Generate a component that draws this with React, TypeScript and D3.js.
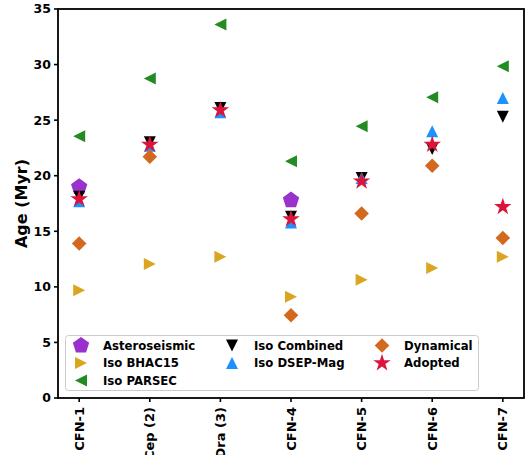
import React from "react";
import * as d3 from "d3";

const categories = ["CFN-1", "CFN-2 Cep (2)", "CFN-3 Dra (3)", "CFN-4", "CFN-5", "CFN-6", "CFN-7"];
const yTicks = [0, 5, 10, 15, 20, 25, 30, 35];

// values per category index (null = missing)
const asteroseismic = [19.0, null, null, 17.8, null, null, null];
const isoBHAC15 = [9.7, 12.05, 12.7, 9.1, 10.65, 11.7, 12.7];
const isoPARSEC = [23.55, 28.75, 33.6, 21.3, 24.45, 27.05, 29.85];
const isoCombined = [18.1, 23.0, 26.1, 16.3, 19.8, 22.4, 25.3];
const isoDSEP = [17.7, 22.7, 25.7, 15.8, 19.8, 24.0, 27.0];
const dynamical = [13.9, 21.7, null, 7.45, 16.6, 20.9, 14.4];
const adopted = [17.9, 22.8, 25.9, 16.1, 19.5, 22.8, 17.2];

type Shape = "pentagon" | "tri_right" | "tri_left" | "tri_down" | "tri_up" | "diamond" | "star";

const series: { name: string; values: (number | null)[]; color: string; shape: Shape }[] = [
  { name: "Asteroseismic", values: asteroseismic, color: "#9932CC", shape: "pentagon" },
  { name: "Iso BHAC15", values: isoBHAC15, color: "#DAA520", shape: "tri_right" },
  { name: "Iso PARSEC", values: isoPARSEC, color: "#228B22", shape: "tri_left" },
  { name: "Iso Combined", values: isoCombined, color: "#000000", shape: "tri_down" },
  { name: "Iso DSEP-Mag", values: isoDSEP, color: "#1E90FF", shape: "tri_up" },
  { name: "Dynamical", values: dynamical, color: "#D2691E", shape: "diamond" },
  { name: "Adopted", values: adopted, color: "#DC143C", shape: "star" },
];

function polygon(pts: [number, number][]) {
  return "M" + pts.map((p) => p[0].toFixed(2) + "," + p[1].toFixed(2)).join("L") + "Z";
}

function markerPath(shape: Shape): string {
  const h = 6;
  switch (shape) {
    case "pentagon": {
      const r = 8.6;
      const pts: [number, number][] = [];
      for (let i = 0; i < 5; i++) {
        const a = -Math.PI / 2 + (i * 2 * Math.PI) / 5;
        pts.push([r * Math.cos(a), r * Math.sin(a)]);
      }
      return polygon(pts);
    }
    case "tri_right":
      return polygon([[h, 0], [-h, -h], [-h, h]]);
    case "tri_left":
      return polygon([[-h, 0], [h, -h], [h, h]]);
    case "tri_down":
      return polygon([[0, h], [-h, -h], [h, -h]]);
    case "tri_up":
      return polygon([[0, -h], [-h, h], [h, h]]);
    case "diamond": {
      const d = 7.3;
      return polygon([[0, -d], [d, 0], [0, d], [-d, 0]]);
    }
    case "star": {
      const R = 9.2;
      const r = R * 0.382;
      const pts: [number, number][] = [];
      for (let i = 0; i < 10; i++) {
        const a = -Math.PI / 2 + (i * Math.PI) / 5;
        const rr = i % 2 === 0 ? R : r;
        pts.push([rr * Math.cos(a), rr * Math.sin(a)]);
      }
      return polygon(pts);
    }
  }
}

const W = 525;
const H = 455;
const L = 58;
const R = 524;
const T = 9;
const B = 398;

export default function App() {
  const x = d3.scaleLinear().domain([-0.3, categories.length - 1 + 0.3]).range([L, R]);
  const y = d3.scaleLinear().domain([0, 35]).range([B, T]);
  const font = "DejaVu Sans, sans-serif";

  const legendCols = [
    [series[0], series[1], series[2]],
    [series[3], series[4]],
    [series[5], series[6]],
  ];
  const colX = [81, 232, 382];
  const rowY = [345.5, 363, 380.5];

  return (
    <svg width={W} height={H} style={{ position: "absolute", left: 0, top: 0 }} fontFamily={font}>
      <rect width={W} height={H} fill="#fff" />
      {/* markers */}
      {series.map((s) =>
        s.values.map((v, i) =>
          v == null ? null : (
            <path key={s.name + i} d={markerPath(s.shape)} transform={`translate(${x(i)},${y(v)})`} fill={s.color} />
          )
        )
      )}
      {/* legend */}
      <rect x={65.5} y={335.5} width={413} height={55} rx={3} fill="#fff" fillOpacity={0.8} stroke="#cccccc" strokeWidth={1} />
      {legendCols.map((col, ci) =>
        col.map((s, ri) => (
          <g key={s.name}>
            <path d={markerPath(s.shape)} transform={`translate(${colX[ci]},${rowY[ri]})`} fill={s.color} />
            <text x={colX[ci] + 22} y={rowY[ri] + 4.2} fontSize={11.7} fontWeight="bold" fill="#000">
              {s.name}
            </text>
          </g>
        ))
      )}
      {/* frame */}
      <rect x={L} y={T} width={R - L} height={B - T} fill="none" stroke="#000" strokeWidth={1.8} />
      {/* y ticks */}
      {yTicks.map((t) => (
        <g key={t}>
          <line x1={L - 4} x2={L} y1={y(t)} y2={y(t)} stroke="#000" strokeWidth={1.6} />
          <text x={L - 7} y={y(t) + 4.4} textAnchor="end" fontSize={12.5} fontWeight="bold">
            {t}
          </text>
        </g>
      ))}
      {/* x ticks */}
      {categories.map((c, i) => (
        <g key={c}>
          <line x1={x(i)} x2={x(i)} y1={B} y2={B + 4} stroke="#000" strokeWidth={1.6} />
          <text
            transform={`translate(${x(i) + 4.6},${B + 9}) rotate(-90)`}
            textAnchor="end"
            fontSize={13}
            fontWeight="bold"
          >
            {c}
          </text>
        </g>
      ))}
      <text transform={`translate(26.5,${(T + B) / 2}) rotate(-90)`} textAnchor="middle" fontSize={16} fontWeight="bold">
        Age (Myr)
      </text>
    </svg>
  );
}
